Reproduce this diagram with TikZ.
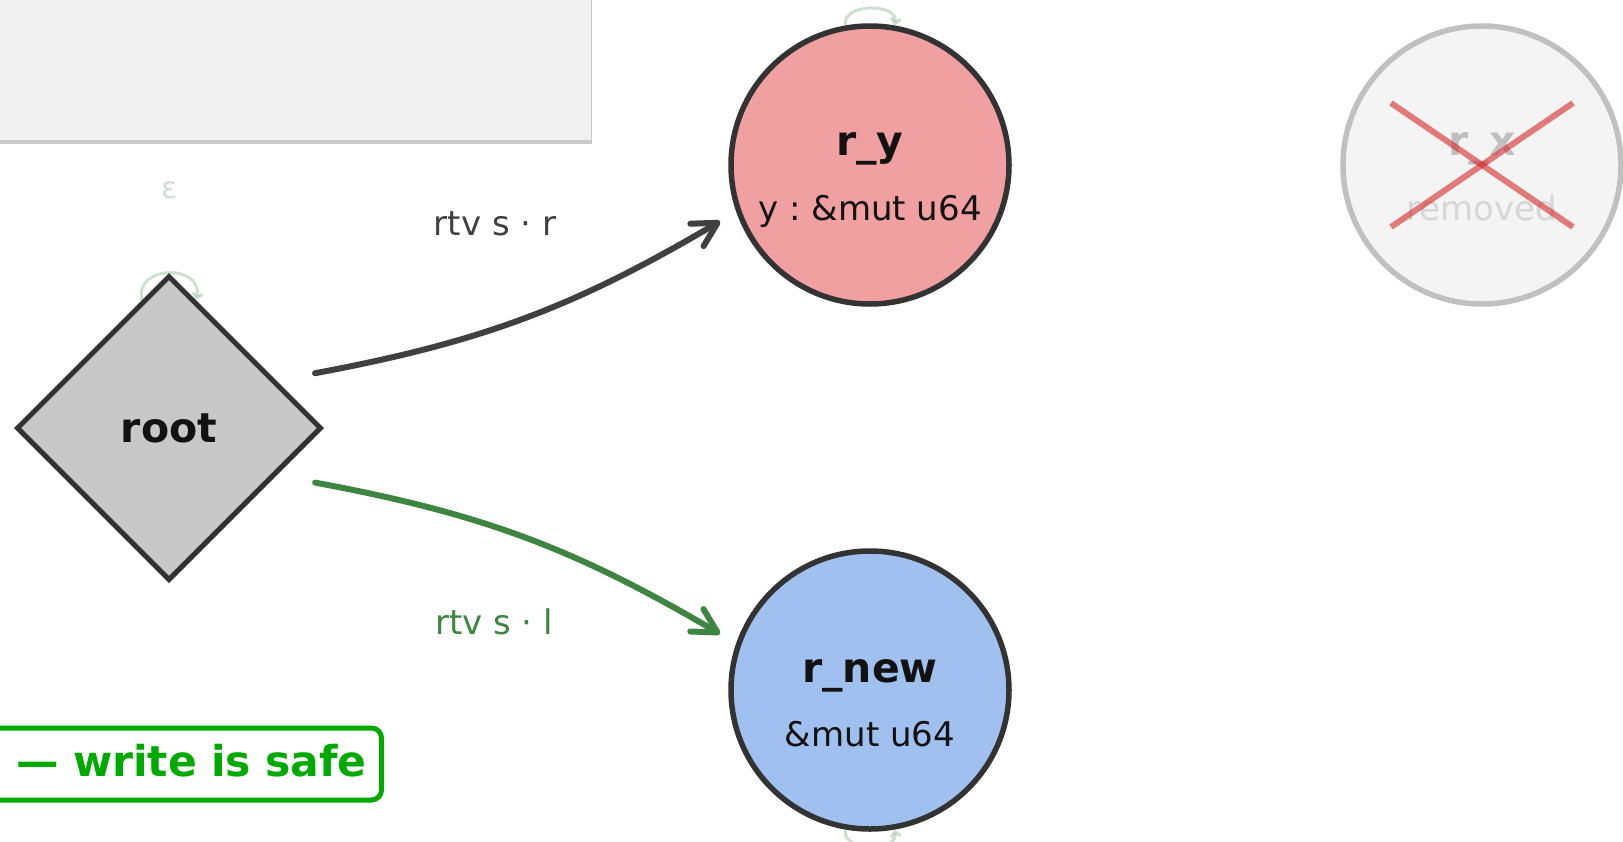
\documentclass[tikz,border=0pt]{standalone}
\usepackage{fontspec}
\setmainfont{DejaVu Sans}
\frenchspacing
\usepackage{tikz}
\usetikzlibrary{arrows.meta,calc,shadows}
\usetikzlibrary{shapes,positioning}
\definecolor{inkdark}{HTML}{333333}
\definecolor{edgegray}{HTML}{404040}
\definecolor{edgegreen}{HTML}{3D8540}
\definecolor{safegreen}{HTML}{00AA00}
\definecolor{ryred}{HTML}{F0A0A0}
\definecolor{rnewblue}{HTML}{A0C0F0}
\definecolor{rootgray}{HTML}{C8C8C8}
\definecolor{ghostgray}{HTML}{C0C0C0}
\definecolor{ghostfill}{HTML}{F4F4F4}
\definecolor{panelgray}{HTML}{F0F0F0}
\definecolor{crossred}{HTML}{D62728}
\newcommand{\namefont}{\fontsize{41}{41}\selectfont\bfseries}
\newcommand{\typefont}{\fontsize{34}{34}\selectfont}

\begin{document}
\begin{tikzpicture}[x=1pt, y=1pt, node distance=612pt,
    region/.style={circle, draw=inkdark, line width=5.5pt, minimum size=278pt, inner sep=0pt},
    regname/.style={anchor=base, text=black!93, font=\namefont},
    regtype/.style={anchor=base, text=black!93, font=\typefont},
    rtv/.style={line width=6pt, line cap=round, -{Straight Barb[length=24pt, width=26pt, round]}},
    selfloop/.style={draw=edgegreen, draw opacity=0.25, line width=3pt, -{Straight Barb[length=5pt, width=10pt]}}]
  \fill[white] (0,0) rectangle (1623,-841);
  \useasboundingbox (0,0) rectangle (1623,-841);
  \node[fill=panelgray, minimum width=650pt, minimum height=200pt, anchor=south east,
        drop shadow={shadow xshift=1.5pt, shadow yshift=-4pt, opacity=0.35, fill=black!60}] (panel) at (591,-140) {};
  \node[diamond, draw=inkdark, fill=rootgray, line width=5pt, minimum size=305pt, inner sep=0pt,
        text=black!93, font=\namefont] (root) at (169,-428) {root};
  \node[region, fill=ryred] (ry) at (870,-165) {};
  \node[region, fill=rnewblue, below of=ry, node distance=525pt] (rnew) {};
  \node[region, draw=ghostgray, fill=ghostfill, right of=ry] (rx) {};
  \node[regname] (rynm) at ([yshift=10pt]ry.center) {r\_y};
  \node[regtype] (rytp) at ([yshift=-55pt]ry.center) {y : \&mut u64};
  \node[regname] (rnewnm) at ([yshift=8pt]rnew.center) {r\_new};
  \node[regtype] (rnewtp) at ([yshift=-56pt]rnew.center) {\&mut u64};
  \node[regname, text=ghostgray] (rxnm) at ([yshift=10pt]rx.center) {r\_x};
  \node[regtype, text=ghostgray!65] (rxtp) at ([yshift=-55pt]rx.center) {removed};
  \draw[crossred, opacity=0.6, line width=6pt] ([shift={(-91,62)}]rx.center) -- ([shift={(91,-62)}]rx.center);
  \draw[crossred, opacity=0.6, line width=6pt] ([shift={(-91,-62)}]rx.center) -- ([shift={(91,62)}]rx.center);
  \draw[selfloop] (root) to[out=102, in=78, distance=37pt] (root);
  \draw[selfloop] (ry) to[out=100, in=80, distance=23pt] (ry);
  \draw[selfloop] (rnew) to[out=260, in=280, distance=23pt] (rnew);
  \node[text=edgegreen, text opacity=0.25, font=\fontsize{30}{30}\selectfont] (eps) at (170,-190) {ε};
  \draw[rtv, edgegray] ($(root)!156pt!(ry)$) to[bend right=10] ($(ry)!160pt!(root)$);
  \draw[rtv, edgegreen] ($(root)!156pt!(rnew)$) to[bend left=10] ($(rnew)!160pt!(root)$);
  \node[anchor=base, text=edgegray, font=\typefont] (lblr) at (495,-235) {rtv s · r};
  \node[anchor=base, text=edgegreen, font=\typefont] (lbll) at (494,-634) {rtv s · l};
  \node[draw=safegreen, line width=5pt, rounded corners=10pt, fill=white, text=safegreen,
        font=\fontsize{42.5}{42.5}\selectfont\bfseries, minimum height=72pt, inner xsep=15pt,
        text width=362pt, align=right, text height=32pt, text depth=8pt, outer sep=0pt,
        anchor=east] (legend) at (381.5,-764) {— write is safe};
\end{tikzpicture}
\end{document}
